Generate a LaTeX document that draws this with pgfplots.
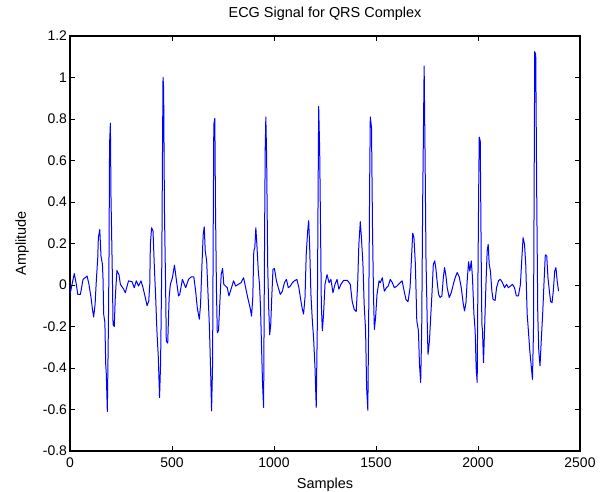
\documentclass[border=0pt]{standalone}
\usepackage{pgfplots}
\pgfplotsset{compat=1.18}
\usepackage{fontspec}
\setmainfont{Liberation Sans}
\begin{document}
\begin{tikzpicture}
\useasboundingbox (-70bp,-41bp) rectangle (533bp,451bp);
\begin{axis}[
  at={(0,0)}, anchor=south west,
  scale only axis, width=510bp, height=415bp,
  xmin=0, xmax=2500, ymin=-0.8, ymax=1.2,
  xtick={0,500,1000,1500,2000,2500},
  ytick={-0.8,-0.6,-0.4,-0.2,0,0.2,0.4,0.6,0.8,1,1.2},
  yticklabels={-0.8,-0.6,-0.4,-0.2,0,0.2,0.4,0.6,0.8,1,1.2},
  xticklabels={0,500,1000,1500,2000,2500},
  tick align=inside, xtick pos=both, ytick pos=both,
  major tick length=5bp,
  axis line style={line width=1.2bp},
  every tick/.style={black, line width=0.8bp},
  tick label style={font=\fontsize{14}{14}\selectfont},
  xticklabel style={yshift=-3bp},
  yticklabel style={xshift=0.5bp},
  label style={font=\fontsize{14.5}{15}\selectfont},
  title style={font=\fontsize{14.5}{15}\selectfont, at={(axis description cs:0.5,1)}, anchor=center, yshift=16.5bp},
  xlabel style={at={(axis description cs:0.5,0)}, anchor=center, yshift=-34bp},
  ylabel style={at={(axis description cs:-0.094,0.5)}, anchor=center},
  title={ECG Signal for QRS Complex},
  xlabel={Samples}, ylabel={Amplitude},
]
\addplot[blue, line width=1bp, line join=round] coordinates {
(0,-0.045) (21,0.055) (31,0.003) (38,-0.045) (51,-0.045) (64,0.027) (84,0.043) (93,0.003) (103,-0.06) (110,-0.117) (116,-0.154) (123,-0.093) (129,0.02) (136,0.13) (139,0.228) (146,0.267) (152,0.138) (159,0.1) (162,0.027) (165,-0.14) (171,-0.18) (175,-0.38) (178,-0.43) (183,-0.61) (188,-0.22) (191,0.1) (194,0.68) (198,0.78) (201,0.42) (208,0.027) (211,-0.19) (217,-0.2) (222,-0.06) (230,0.07) (240,0.05) (247,0.003) (263,-0.02) (271,-0.037) (287,0.02) (304,0.016) (315,-0.013) (325,0.02) (336,-0.005) (348,0.02) (358,-0.013) (369,-0.06) (378,-0.1) (386,-0.077)
(391,0.003) (394,0.196) (400,0.276) (407,0.26) (413,0.1) (420,-0.06) (426,-0.22) (433,-0.35) (439,-0.543) (444,-0.38) (450,0.1) (453,0.58) (456,1.0) (459,0.95) (463,0.36) (469,-0.03) (472,-0.27) (479,-0.28) (486,-0.06) (492,0.003) (502,0.035) (512,0.096) (522,0.02) (532,-0.053) (538,-0.045) (551,0.027) (567,-0.013) (581,0.027) (594,0.039) (607,0.039) (616,-0.03) (624,-0.11) (634,-0.165) (640,-0.093)
(647,0.1) (653,0.244) (658,0.28) (663,0.164) (670,0.116) (676,-0.03) (683,-0.19) (689,-0.4) (694,-0.607) (699,-0.38) (702,0.26) (705,0.774) (710,0.803) (713,0.39) (718,-0.03) (722,-0.23) (728,-0.22) (735,-0.077) (741,0.05) (748,0.08) (754,0.003) (771,-0.013) (779,-0.053)
(802,0.02) (812,-0.005) (825,0.003) (838,0.011) (851,0.035) (861,-0.013) (871,-0.06) (877,-0.085) (883,-0.11) (890,-0.15) (896,-0.06) (901,0.164) (906,0.18) (911,0.276) (916,0.196) (923,0.067) (929,0.003) (934,-0.11) (939,-0.3) (944,-0.48) (949,-0.59) (954,0.26) (957,0.66) (960,0.81) (964,0.61) (969,0.1) (974,-0.11) (979,-0.24) (984,-0.19) (989,-0.06) (995,0.075) (1002,0.08) (1012,0.02) (1021,-0.013) (1031,-0.045) (1041,-0.03) (1051,0.011) (1061,0.027) (1070,-0.013) (1080,-0.005) (1090,0.011) (1100,0.02) (1112,0.027) (1122,-0.013) (1132,-0.077) (1139,-0.117) (1145,-0.14) (1152,-0.06)
(1158,0.148) (1165,0.26) (1170,0.31) (1175,0.18) (1181,-0.045) (1188,-0.173) (1194,-0.254) (1201,-0.4) (1207,-0.59) (1212,-0.22) (1216,0.42) (1219,0.86) (1224,0.646) (1229,0.196) (1232,-0.093) (1237,-0.22) (1243,-0.14) (1250,0.003) (1260,0.05) (1270,0.011) (1279,0.027) (1289,-0.037) (1299,0.003) (1309,0.027) (1318,-0.02) (1328,0.003) (1341,0.022) (1360,0.022) (1374,0.003) (1383,-0.077) (1393,-0.117) (1403,-0.128)
(1410,0.003) (1416,0.196) (1423,0.305) (1429,0.22) (1436,0.1) (1442,-0.093) (1449,-0.22) (1454,-0.495) (1460,-0.604) (1465,-0.06) (1469,0.5) (1472,0.81) (1478,0.758) (1483,0.26) (1488,-0.06) (1492,-0.214) (1498,-0.157) (1505,-0.045) (1515,0.02) (1521,0.011) (1531,0.035) (1541,-0.03) (1551,-0.013) (1560,-0.005) (1570,0.027) (1580,0.011) (1590,-0.013) (1603,-0.005)
(1618,0.011) (1628,0.02) (1638,-0.03) (1647,-0.07) (1657,-0.08) (1667,-0.013) (1674,0.13) (1680,0.25) (1686,0.228) (1693,0.1) (1700,-0.173) (1708,-0.22) (1713,-0.38) (1719,-0.47) (1724,-0.22) (1729,0.42) (1736,1.055) (1741,0.58) (1745,0.13) (1752,-0.22) (1755,-0.334) (1762,-0.27) (1768,-0.157) (1775,-0.03) (1781,0.1) (1788,0.116) (1794,0.075) (1801,0.003) (1807,-0.045) (1814,-0.06) (1823,-0.053) (1830,0.035) (1836,0.084) (1843,0.043) (1849,-0.013) (1859,-0.06) (1869,-0.037) (1879,0.003) (1888,0.035) (1898,0.06) (1908,0.039) (1918,-0.013) (1928,-0.093) (1934,-0.125) (1941,-0.085)
(1947,0.02) (1954,0.112) (1960,0.067) (1967,0.116) (1973,0.035) (1980,-0.14) (1986,-0.22) (1991,-0.4) (1996,-0.47) (1999,-0.06) (2003,0.42) (2006,0.713) (2011,0.694) (2016,0.1) (2019,-0.19) (2022,-0.22) (2027,-0.374) (2032,-0.22) (2039,0.003) (2045,0.164) (2050,0.196) (2055,0.1) (2061,0.067) (2068,-0.03) (2074,-0.07) (2084,-0.074) (2091,-0.013) (2101,0.022) (2110,0.027) (2120,0.011) (2130,-0.013) (2140,0.003) (2149,-0.013) (2159,-0.005) (2169,0.003) (2179,-0.013) (2188,-0.053) (2198,-0.053)
(2208,0.003) (2215,0.13) (2221,0.228) (2228,0.196) (2234,0.1) (2241,-0.14) (2247,-0.22) (2254,-0.318) (2260,-0.38) (2267,-0.455) (2272,-0.22) (2275,0.42) (2278,1.125) (2283,1.11) (2288,0.42) (2293,-0.14) (2298,-0.318) (2304,-0.39) (2310,-0.27) (2317,-0.14) (2324,0.02) (2330,0.145) (2337,0.14) (2343,0.035) (2350,-0.03) (2356,-0.08) (2363,-0.085) (2369,-0.03) (2376,0.067) (2382,0.084) (2389,0.011) (2395,-0.03)
};
\end{axis}
\end{tikzpicture}
\end{document}
